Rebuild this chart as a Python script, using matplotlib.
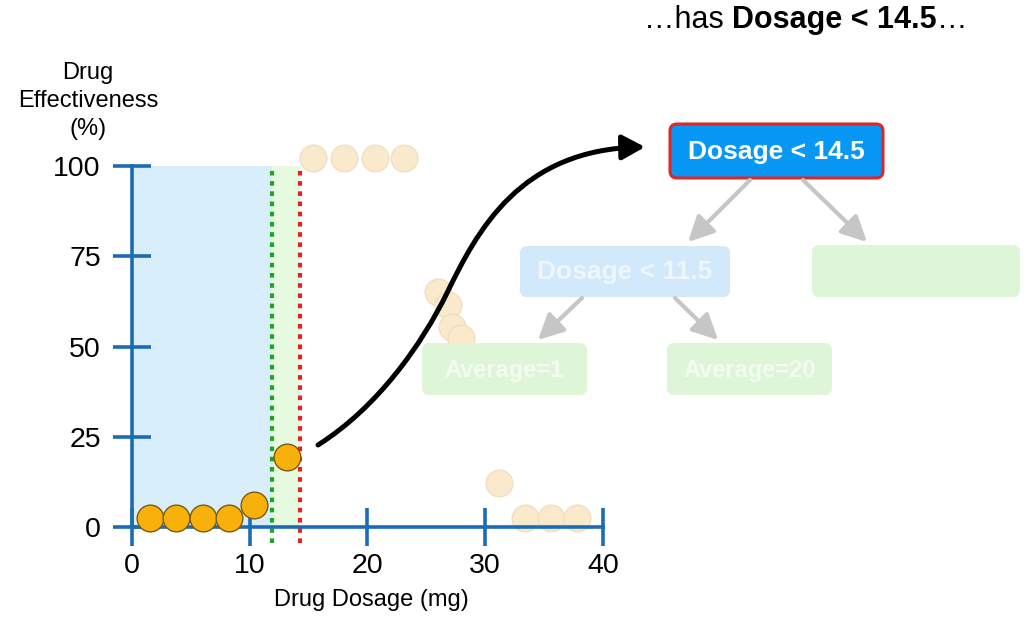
import numpy as np
import matplotlib
matplotlib.use("Agg")
from matplotlib import pyplot as plt
from matplotlib.patches import FancyBboxPatch, FancyArrowPatch
from matplotlib.path import Path

plt.rcParams['font.family'] = ['Liberation Sans', 'DejaVu Sans']

# points in the current leaf (highlighted) and the rest (faded)
dose_on = [1.5, 3.7, 6.0, 8.2, 10.4, 13.2]
eff_on = [2.4, 2.4, 2.4, 2.4, 6.0, 19.3]
dose_off = [15.4, 18.0, 20.6, 23.1, 26.0, 26.8, 27.2, 27.9, 31.2, 33.4, 35.6, 37.8]
eff_off = [102.1, 102.1, 102.1, 102.1, 65.2, 61.5, 55.5, 52.3, 12.1, 2.4, 2.4, 2.4]

split_left = 11.85
split_right = 14.25
x_ticks = [0, 10, 20, 30, 40]
y_ticks = [0, 25, 50, 75, 100]

tree_labels = ["Dosage < 14.5", "Dosage < 11.5", "", "Average=1", "Average=20"]

axis_col = '#1b6cb5'

fig = plt.figure(figsize=(10.27, 6.25), dpi=100)
ax = fig.add_axes([0.1056, 0.1221, 0.4930, 0.6354])
ax.set_xlim(-2, 41)
ax.set_ylim(-6, 104)
ax.patch.set_visible(False)

ax.fill_between([0, split_left], 0, 100, color='#d8eefb', lw=0, zorder=0)
ax.fill_between([split_left, split_right], 0, 100, color='#e6fadf', lw=0, zorder=0)
ax.vlines([split_left], -4.5, 100, colors='#1fa51f', lw=3, linestyles=(0, (1.1, 1.35)), zorder=1)
ax.vlines([split_right], -4.5, 100, colors='#e42222', lw=3, linestyles=(0, (1.1, 1.35)), zorder=1)

ax.scatter(dose_off, eff_off, s=370, c='#fbe9cb', edgecolors='#eedfc6', lw=1, clip_on=False, zorder=2)
ax.scatter(dose_on, eff_on, s=370, c='#f7b10a', edgecolors='#7a5a10', lw=1, clip_on=False, zorder=4)

for s in ['top', 'right']:
    ax.spines[s].set_visible(False)
ax.spines['left'].set_position(('data', 0))
ax.spines['bottom'].set_position(('data', 0))
ax.spines['left'].set_bounds(0, 100)
ax.spines['bottom'].set_bounds(0, 40)
for s in ['left', 'bottom']:
    ax.spines[s].set_color(axis_col)
    ax.spines[s].set_linewidth(2.6)
    ax.spines[s].set_zorder(3)
ax.set_xticks(x_ticks)
ax.set_yticks(y_ticks)
ax.tick_params(direction='inout', length=27, width=2.6, color=axis_col, labelsize=20.5)
ax.tick_params(axis='y', pad=9)
ax.tick_params(axis='x', pad=5)

fig.text(371 / 1027, 1 - 600 / 625, "Drug Dosage (mg)", ha='center', va='center', fontsize=17)
fig.text(88 / 1027, 1 - 101 / 625, "Drug\nEffectiveness\n(%)", ha='center', va='center',
         fontsize=17, linespacing=1.35)

# overlay in pixel coordinates for the tree and the arrow
ov = fig.add_axes([0, 0, 1, 1], zorder=5)
ov.set_xlim(0, 1027)
ov.set_ylim(625, 0)
ov.axis('off')

boxes = [(670, 124, 213, 54), (520, 246, 210, 51), (812, 245, 208, 52),
         (422, 343, 165, 52), (667, 343, 165, 52)]
faces = ['#0797f5', '#d2e8fb', '#dff5d8', '#dff5d8', '#dff5d8']
edges = ['#e02626', 'none', 'none', 'none', 'none']
txtcol = ['white', '#eef6fe', 'white', '#f2fbef', '#f2fbef']
sizes = [19, 19, 19, 17, 17]
for (bx, by, bw, bh), fc, ec, tc, fs, lab in zip(boxes, faces, edges, txtcol, sizes, tree_labels):
    ov.add_patch(FancyBboxPatch((bx, by), bw, bh, boxstyle="round,pad=0,rounding_size=7",
                                fc=fc, ec=ec, lw=2.2))
    ov.text(bx + bw / 2, by + bh / 2 + 1, lab, ha='center', va='center', color=tc,
            fontsize=fs, fontweight='bold')

for (x0, y0, x1, y1) in [(750, 180, 688, 242), (803, 180, 867, 242),
                         (582, 298, 538, 340), (675, 298, 718, 340)]:
    ov.annotate("", xy=(x1, y1), xytext=(x0, y0),
                arrowprops=dict(arrowstyle='-|>,head_length=0.7,head_width=0.35', color='#c6c6c6',
                                lw=3, mutation_scale=22, shrinkA=0, shrinkB=0))

verts = [(318, 445), (378, 407), (422, 344), (447, 293),
         (477, 231), (520, 149), (645, 147)]
codes = [Path.MOVETO, Path.CURVE4, Path.CURVE4, Path.CURVE4,
         Path.CURVE4, Path.CURVE4, Path.CURVE4]
curve = FancyArrowPatch(path=Path(verts, codes), arrowstyle='-|>,head_length=0.55,head_width=0.3',
                        mutation_scale=25, lw=3.6, color='black')
ov.add_patch(curve)

t1 = ov.text(644, 20, "\u2026has ", ha='left', va='center', fontsize=22)
t2 = ov.annotate("Dosage < 14.5", xy=(1, 0), xycoords=t1, ha='left', va='bottom',
                 fontsize=22, fontweight='bold')
ov.annotate("\u2026", xy=(1, 0), xycoords=t2, ha='left', va='bottom', fontsize=22)

fig.savefig("out.png", dpi=100)
